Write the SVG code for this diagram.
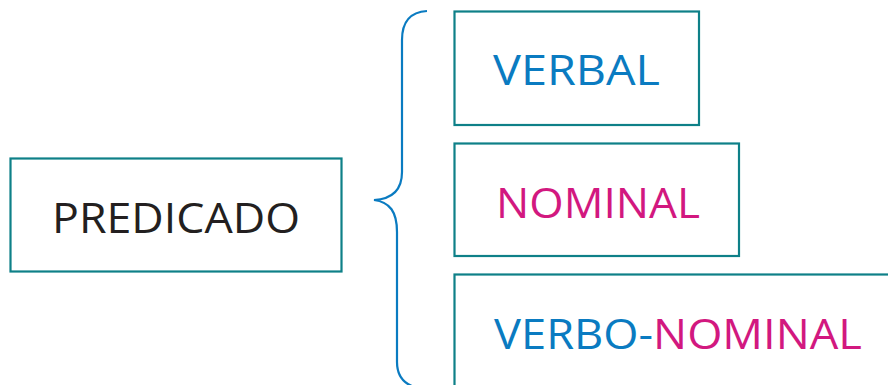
<svg xmlns="http://www.w3.org/2000/svg" width="888" height="385" viewBox="0 0 888 385">
<style>
.box{fill:#fff;stroke:#0e8088;stroke-width:2.2}
.t{font-family:"Open Sans","Noto Sans",sans-serif;font-size:42px}
.blue{fill:#0a7bc1}
.mag{fill:#d2187f}
.dark{fill:#231f20}
</style>
<rect width="888" height="385" fill="#fff"/>
<g id="predicado">
<rect class="box" x="10.5" y="158.5" width="331" height="113"/>
<text class="t dark" x="52" y="233" textLength="248" lengthAdjust="spacingAndGlyphs">PREDICADO</text>
</g>
<g id="connectors">
<path d="M427,11 C410,12 402,22 402,40 L402,172 C402,190 392,199 374,200 C390,202 397,212 397,232 L397,362 C397,377 405,385 418,388" fill="none" stroke="#0a7bc1" stroke-width="2.2"/>
</g>
<g id="verbal">
<rect class="box" x="454.5" y="11.5" width="244.5" height="113.5"/>
<text class="t blue" x="493" y="85" textLength="167" lengthAdjust="spacingAndGlyphs">VERBAL</text>
</g>
<g id="nominal">
<rect class="box" x="454.5" y="143.5" width="284.5" height="112.5"/>
<text class="t mag" x="496" y="218" textLength="204" lengthAdjust="spacingAndGlyphs">NOMINAL</text>
</g>
<g id="verbo-nominal">
<rect class="box" x="454.5" y="274.5" width="440" height="120"/>
<text class="t" x="494" y="349" textLength="368" lengthAdjust="spacingAndGlyphs"><tspan class="blue">VERBO-</tspan><tspan class="mag">NOMINAL</tspan></text>
</g>
</svg>
